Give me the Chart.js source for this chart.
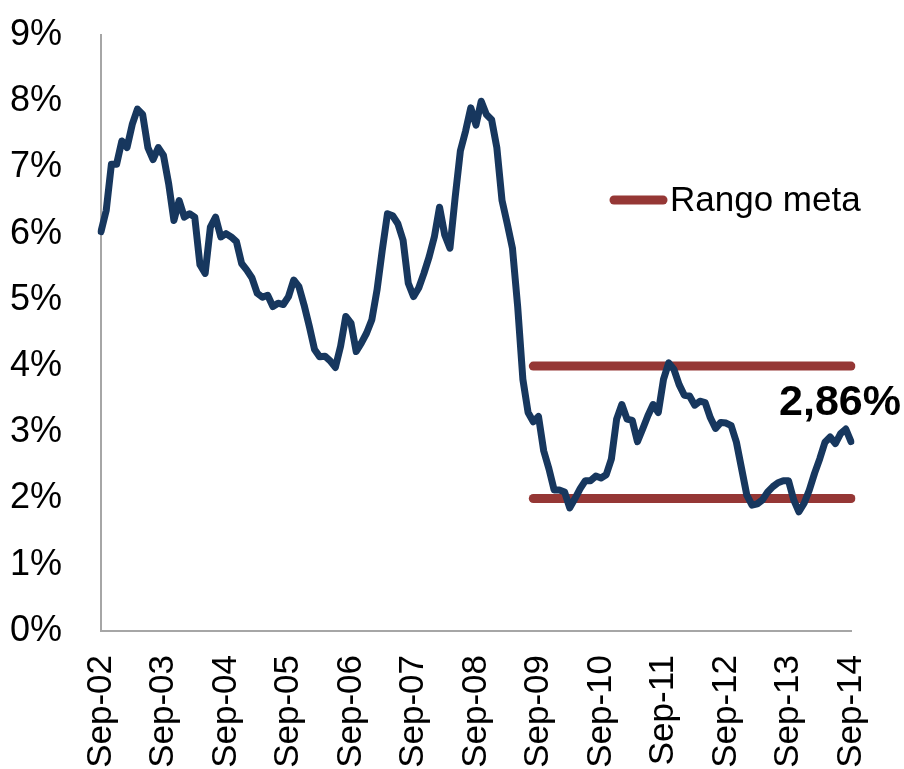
<!DOCTYPE html>
<html>
<head>
<meta charset="utf-8">
<script src="https://cdn.jsdelivr.net/npm/chart.js@4.4.1/dist/chart.umd.min.js"></script>
<style>
  html, body { margin: 0; padding: 0; background: #fff; }
  #wrap { width: 904px; height: 769px; }
</style>
</head>
<body>
<div id="wrap"><canvas id="grafico"></canvas></div>
<script>
// Datos: inflación anual mensual, Sep-02 a Sep-14
const tickLabels = ['Sep-02', 'Sep-03', 'Sep-04', 'Sep-05', 'Sep-06', 'Sep-07', 'Sep-08',
                    'Sep-09', 'Sep-10', 'Sep-11', 'Sep-12', 'Sep-13', 'Sep-14'];
const meses = ['Sep', 'Oct', 'Nov', 'Dec', 'Jan', 'Feb', 'Mar', 'Apr', 'May', 'Jun', 'Jul', 'Aug'];

const inflacion = [
    6.03, 6.35, 7.05, 7.05, 7.40, 7.30, 7.65, 7.88, 7.80, 7.30, 7.12, 7.30,
    7.18, 6.75, 6.20, 6.50, 6.25, 6.30, 6.25, 5.53, 5.40, 6.10, 6.25, 5.95,
    6.00, 5.95, 5.88, 5.55, 5.45, 5.33, 5.10, 5.04, 5.07, 4.90, 4.95, 4.93,
    5.05, 5.30, 5.20, 4.92, 4.60, 4.25, 4.14, 4.15, 4.08, 3.98, 4.30, 4.75,
    4.65, 4.22, 4.35, 4.50, 4.70, 5.15, 5.75, 6.30, 6.27, 6.15, 5.90, 5.25,
    5.05, 5.18, 5.40, 5.65, 5.95, 6.40, 5.98, 5.78, 6.55, 7.25, 7.55, 7.90,
    7.64, 8.00, 7.80, 7.72, 7.30, 6.50, 6.15, 5.78, 4.90, 3.80, 3.30, 3.16,
    3.24, 2.72, 2.45, 2.13, 2.13, 2.10, 1.86, 2.00, 2.15, 2.27, 2.27, 2.34,
    2.31, 2.36, 2.60, 3.20, 3.42, 3.20, 3.18, 2.86, 3.05, 3.25, 3.42, 3.30,
    3.80, 4.05, 3.95, 3.72, 3.56, 3.55, 3.41, 3.47, 3.45, 3.22, 3.06, 3.15,
    3.14, 3.10, 2.85, 2.45, 2.05, 1.90, 1.92, 1.98, 2.10, 2.18, 2.24, 2.27,
    2.27, 1.98, 1.80, 1.93, 2.13, 2.38, 2.60, 2.85, 2.93, 2.83, 2.98, 3.05,
    2.86
];

// Rango meta del banco central
const rangoMin = 2;
const rangoMax = 4;
const rangoDesde = 'Aug-09';
const ultimoValor = '2,86%';

// Categorías mensuales
const categorias = [];
for (let a = 2; a <= 14; a++) {
    meses.forEach((m, i) => {
        const anio = i < 4 ? a : a + 1;
        categorias.push(m + '-' + String(anio).padStart(2, '0'));
    });
}
categorias.length = inflacion.length;

const inicioRango = categorias.indexOf(rangoDesde);
const lineaMax = categorias.map((c, i) => i >= inicioRango ? rangoMax : null);
const lineaMin = categorias.map((c, i) => i >= inicioRango ? rangoMin : null);

const FUENTE = "'Liberation Sans Narrow', 'Arial Narrow', 'Liberation Sans', Arial, sans-serif";
const AZUL = '#17375E';
const ROJO = '#953735';

// Leyenda y etiqueta del último dato
const extras = {
    id: 'extras',
    afterDatasetsDraw(chart) {
        const ctx = chart.ctx;
        ctx.save();
        ctx.strokeStyle = ROJO;
        ctx.lineWidth = 9;
        ctx.lineCap = 'round';
        ctx.beginPath();
        ctx.moveTo(614, 200);
        ctx.lineTo(663, 200);
        ctx.stroke();
        ctx.fillStyle = '#000';
        ctx.font = '35px ' + FUENTE;
        ctx.textBaseline = 'middle';
        ctx.textAlign = 'left';
        ctx.fillText('Rango meta', 670, 201);

        const meta = chart.getDatasetMeta(0);
        const p = meta.data[meta.data.length - 1];
        ctx.font = 'bold 43px ' + FUENTE;
        ctx.textAlign = 'right';
        ctx.fillText(ultimoValor, 901, p.y - 38);
        ctx.restore();
    }
};

const ctx = document.getElementById('grafico').getContext('2d');
new Chart(ctx, {
    type: 'line',
    data: {
        labels: categorias,
        datasets: [
            {
                label: 'Inflación',
                data: inflacion,
                borderColor: AZUL,
                borderWidth: 7,
                pointRadius: 0,
                borderJoinStyle: 'round',
                borderCapStyle: 'round',
                tension: 0
            },
            {
                label: 'Rango meta',
                data: lineaMax,
                borderColor: ROJO,
                borderWidth: 9,
                pointRadius: 0,
                borderCapStyle: 'round',
                order: 1
            },
            {
                label: 'Rango meta min',
                data: lineaMin,
                borderColor: ROJO,
                borderWidth: 9,
                pointRadius: 0,
                borderCapStyle: 'round',
                order: 1
            }
        ]
    },
    options: {
        responsive: true,
        maintainAspectRatio: false,
        animation: false,
        layout: { padding: { top: 35, right: 53, left: 0, bottom: 0 } },
        plugins: {
            legend: { display: false },
            tooltip: { enabled: false }
        },
        scales: {
            x: {
                grid: { drawOnChartArea: false, tickLength: 24, tickColor: 'rgba(0,0,0,0)' },
                border: { color: '#A6A6A6', width: 2 },
                afterFit(s) { s.height = 138; },
                ticks: {
                    autoSkip: false,
                    maxRotation: 90,
                    minRotation: 90,
                    padding: 0,
                    color: '#000',
                    font: { family: FUENTE, size: 35 },
                    callback: function (v, i) {
                        const l = categorias[i];
                        return tickLabels.includes(l) ? l : '';
                    }
                }
            },
            y: {
                min: 0,
                max: 9,
                grid: { drawOnChartArea: false, tickLength: 39, tickColor: 'rgba(0,0,0,0)' },
                border: { color: '#A6A6A6', width: 2 },
                afterFit(s) { s.width = 101; },
                ticks: {
                    stepSize: 1,
                    padding: 0,
                    color: '#000',
                    font: { family: FUENTE, size: 36 },
                    callback: v => v + '%'
                }
            }
        }
    },
    plugins: [extras]
});
</script>
</body>
</html>
